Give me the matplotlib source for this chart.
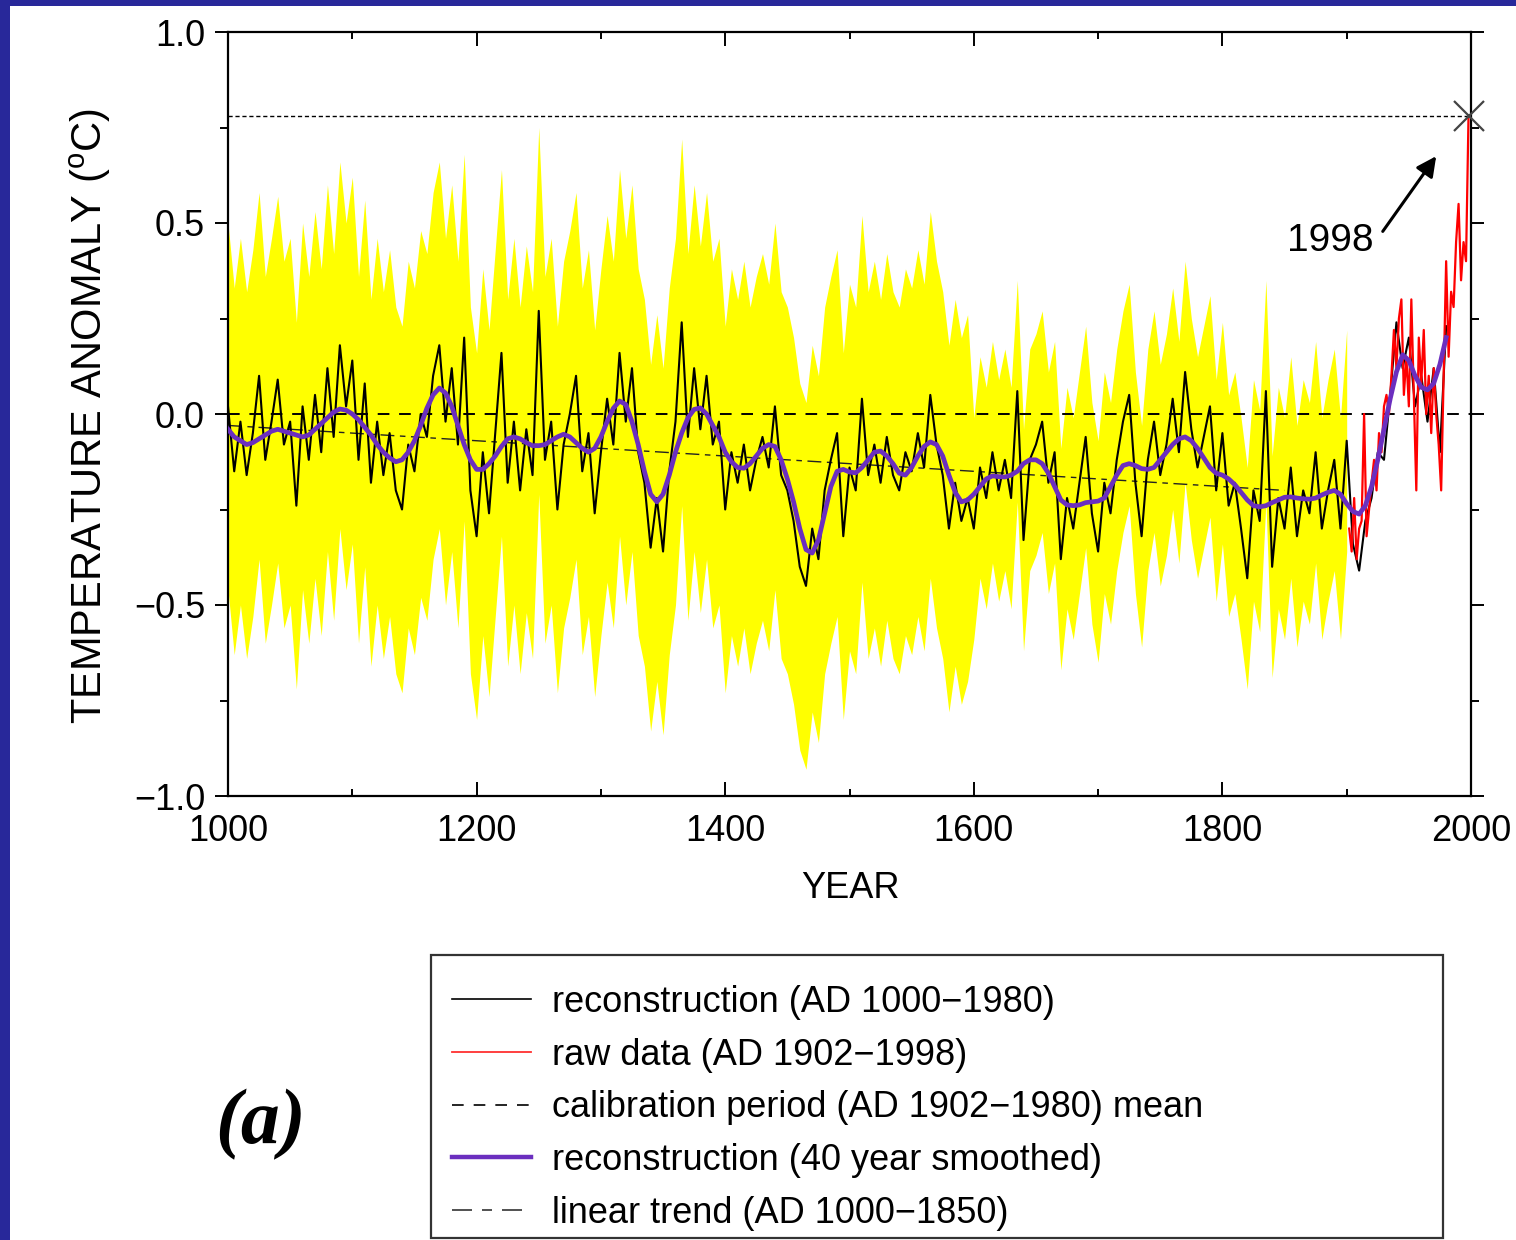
import numpy as np
import matplotlib
matplotlib.use('Agg')
from matplotlib import pyplot as plt
from matplotlib.lines import Line2D
from matplotlib.patches import Rectangle

plt.rcParams['font.family'] = ['Liberation Sans', 'DejaVu Sans']
plt.rcParams['mathtext.fontset'] = 'custom'
plt.rcParams['mathtext.rm'] = 'Liberation Sans'

# reconstruction, 5-year steps 1000..1980
recon_years = np.arange(1000, 1981, 5)
recon = [
    0.02, -0.15, -0.02, -0.16, -0.05, 0.10, -0.12, -0.02, 0.09, -0.08,
    -0.02, -0.24, 0.02, -0.12, 0.05, -0.10, 0.12, -0.06, 0.18, 0.02,
    0.14, -0.12, 0.08, -0.18, -0.02, -0.16, -0.05, -0.20, -0.25, -0.08,
    -0.15, 0.00, -0.06, 0.10, 0.18, -0.02, 0.12, -0.08, 0.20, -0.20,
    -0.32, -0.10, -0.26, -0.05, 0.16, -0.18, -0.02, -0.20, -0.04, -0.16,
    0.27, -0.12, -0.02, -0.25, -0.08, 0.00, 0.10, -0.15, -0.05, -0.26,
    -0.10, 0.04, -0.08, 0.16, -0.02, 0.12, -0.10, -0.18, -0.35, -0.22,
    -0.36, -0.15, -0.02, 0.24, -0.06, 0.12, -0.04, 0.10, -0.08, -0.02,
    -0.25, -0.10, -0.18, -0.08, -0.20, -0.12, -0.06, -0.14, 0.02, -0.16,
    -0.20, -0.28, -0.40, -0.45, -0.30, -0.38, -0.20, -0.12, -0.05, -0.32,
    -0.14, -0.20, 0.04, -0.16, -0.08, -0.18, -0.06, -0.16, -0.20, -0.10,
    -0.15, -0.05, -0.14, 0.05, -0.08, -0.16, -0.30, -0.18, -0.28, -0.22,
    -0.30, -0.14, -0.22, -0.10, -0.20, -0.12, -0.22, 0.06, -0.33, -0.12,
    -0.08, -0.02, -0.18, -0.10, -0.38, -0.22, -0.30, -0.18, -0.06, -0.26,
    -0.36, -0.18, -0.26, -0.12, -0.02, 0.05, -0.18, -0.32, -0.12, -0.02,
    -0.16, -0.08, 0.04, -0.10, 0.11, -0.04, -0.14, -0.06, 0.02, -0.20,
    -0.05, -0.24, -0.18, -0.30, -0.43, -0.20, -0.28, 0.06, -0.40, -0.22,
    -0.30, -0.14, -0.32, -0.20, -0.26, -0.10, -0.30, -0.20, -0.12, -0.30,
    -0.07, -0.34, -0.41, -0.28, -0.22, -0.10, -0.12, 0.05, 0.24, 0.12,
    0.20, 0.02, 0.10, -0.02, 0.12, -0.10, 0.23,
]

# 40 year smoothed reconstruction, same 5-year steps
smooth = [
    -0.04, -0.06, -0.07, -0.08, -0.075, -0.065, -0.055, -0.045, -0.04, -0.045,
    -0.05, -0.055, -0.06, -0.055, -0.04, -0.025, -0.01, 0.005, 0.013, 0.01,
    0.0, -0.015, -0.035, -0.055, -0.08, -0.10, -0.115, -0.125, -0.12, -0.10,
    -0.07, -0.03, 0.015, 0.05, 0.068, 0.055, 0.02, -0.03, -0.08, -0.12,
    -0.145, -0.145, -0.13, -0.11, -0.085, -0.065, -0.06, -0.065, -0.075, -0.083,
    -0.083, -0.08, -0.07, -0.06, -0.053, -0.06, -0.075, -0.09, -0.10, -0.09,
    -0.06, -0.02, 0.015, 0.034, 0.025, -0.02, -0.08, -0.15, -0.21, -0.23,
    -0.21, -0.16, -0.10, -0.05, -0.01, 0.012, 0.016, 0.0, -0.03, -0.06,
    -0.10, -0.125, -0.14, -0.142, -0.13, -0.11, -0.09, -0.08, -0.085, -0.12,
    -0.17, -0.23, -0.30, -0.355, -0.364, -0.33, -0.26, -0.19, -0.15, -0.145,
    -0.152, -0.154, -0.14, -0.12, -0.10, -0.097, -0.11, -0.13, -0.155, -0.16,
    -0.14, -0.11, -0.085, -0.073, -0.08, -0.11, -0.16, -0.205, -0.23, -0.225,
    -0.21, -0.19, -0.17, -0.162, -0.164, -0.165, -0.16, -0.15, -0.13, -0.12,
    -0.12, -0.13, -0.155, -0.19, -0.225, -0.238, -0.24, -0.238, -0.232, -0.23,
    -0.228, -0.22, -0.19, -0.16, -0.135, -0.13, -0.135, -0.143, -0.145, -0.14,
    -0.12, -0.10, -0.08, -0.065, -0.06, -0.07, -0.09, -0.115, -0.14, -0.155,
    -0.16, -0.17, -0.185, -0.205, -0.225, -0.24, -0.243, -0.24, -0.232, -0.225,
    -0.218, -0.217, -0.22, -0.222, -0.223, -0.22, -0.212, -0.205, -0.20, -0.21,
    -0.235, -0.255, -0.262, -0.24, -0.19, -0.12, -0.04, 0.04, 0.11, 0.155,
    0.14, 0.10, 0.07, 0.063, 0.08, 0.13, 0.20,
]

# raw instrumental data, 2-year steps 1902..1998
raw_years = np.arange(1902, 1999, 2)
raw = [
    -0.30, -0.36, -0.22, -0.38, -0.30, -0.28, 0.00, -0.32, -0.25, -0.18,
    -0.12, -0.20, -0.05, -0.10, 0.02, 0.05, 0.00, 0.10, 0.22, 0.12,
    0.25, 0.30, 0.05, 0.15, 0.02, 0.30, 0.05, -0.20, 0.20, 0.08,
    0.22, 0.00, 0.10, -0.05, 0.12, 0.00, -0.08, -0.20, 0.10, 0.40,
    0.15, 0.32, 0.28, 0.45, 0.55, 0.35, 0.45, 0.40, 0.78,
]

# 2-sigma half width of the uncertainty band, per period start
band_start = [1000, 1600]
band_half = [0.48, 0.29]
band_end = 1900

trend_years = [1000, 1850]
trend_vals = [-0.03, -0.20]
calib_mean = 0.0
peak_year = 1998
peak_val = 0.78

purple = '#6b2fbf'
FS = 26

fig = plt.figure(figsize=(15.16, 12.4), dpi=100, facecolor='#28289a')
fig.patches.append(Rectangle((10 / 1516, 0), 1, 1 - 6 / 1240, transform=fig.transFigure,
                             facecolor='white', edgecolor='none', zorder=-5))
ax = fig.add_axes([228 / 1516, 1 - 796 / 1240, (1471 - 228) / 1516, (796 - 32) / 1240])
ax.set_facecolor('white')

recon_a = np.array(recon)
mask = recon_years <= band_end
idx = np.searchsorted(band_start, recon_years[mask], side='right') - 1
half = np.array(band_half)[idx]
ax.fill_between(recon_years[mask], recon_a[mask] - half, recon_a[mask] + half,
                color='#ffff00', lw=0, zorder=1)

ax.axhline(calib_mean, color='black', lw=1.4, ls=(0, (6, 5)), zorder=2)
ax.plot([1000, peak_year], [peak_val, peak_val], color='black', lw=1.0, ls=(0, (3, 2)), zorder=2)
ax.plot(trend_years, trend_vals, color='#222222', lw=1.0, ls=(0, (10, 4, 4, 4)), zorder=3)
ax.plot(recon_years, recon, color='black', lw=1.5, zorder=4)
ax.plot(raw_years, raw, color='#ff0000', lw=1.6, zorder=5)
ax.plot(recon_years, smooth, color=purple, lw=3.4, zorder=6)
ax.plot(peak_year, peak_val, marker='x', ms=22, mew=1.6, color='#444444', zorder=7,
        clip_on=False)

ax.annotate('', xy=(1972, 0.675), xytext=(1929, 0.478),
            arrowprops=dict(arrowstyle='-|>', color='black', lw=2.2,
                            mutation_scale=30, shrinkA=0, shrinkB=0))
ax.text(1887, 0.453, '1998', fontsize=28, ha='center', va='center')

ax.set_xlim(1000, 2000)
ax.set_ylim(-1.0, 1.0)
ax.set_xticks(np.arange(1000, 2001, 200))
ax.set_xticks(np.arange(1100, 2000, 200), minor=True)
ax.set_yticks([-1.0, -0.5, 0.0, 0.5, 1.0])
ax.set_yticklabels(['\u22121.0', '\u22120.5', '0.0', '0.5', '1.0'])
ax.set_yticks([-0.75, -0.25, 0.25, 0.75], minor=True)
ax.tick_params(axis='x', which='both', direction='in', top=True, labelsize=FS, pad=13, width=1.4)
ax.tick_params(axis='x', which='major', length=10)
ax.tick_params(axis='x', which='minor', length=5)
ax.tick_params(axis='y', which='both', direction='out', right=True, labelsize=FS, pad=7, width=1.4)
ax.tick_params(axis='y', which='major', length=9.5)
ax.tick_params(axis='y', which='minor', length=6)
for s in ax.spines.values():
    s.set_linewidth(1.6)

fig.text(90 / 1516, 1 - 416 / 1240, r'TEMPERATURE ANOMALY ($^{\mathrm{o}}$C)',
         rotation=90, ha='center', va='center', fontsize=30)
fig.text(850 / 1516, 1 - 888 / 1240, 'YEAR', ha='center', va='center', fontsize=FS)
fig.text(260 / 1516, 1 - 1125 / 1240, '(a)', ha='center', va='center', fontsize=56,
         family='Liberation Serif', style='italic', weight='bold')

# legend
fig.patches.append(Rectangle((431 / 1516, 2 / 1240), 1012 / 1516, 283 / 1240,
                             transform=fig.transFigure, facecolor='none',
                             edgecolor='#333333', lw=1.6, zorder=5))
handles = [
    Line2D([], [], color='black', lw=1.2),
    Line2D([], [], color='#ff3030', lw=1.3),
    Line2D([], [], color='black', lw=1.2, ls=(0, (7, 6))),
    Line2D([], [], color=purple, lw=3.2),
    Line2D([], [], color='#333333', lw=1.2, ls=(0, (12, 6, 6, 6))),
]
labels = ['reconstruction (AD 1000\u22121980)', 'raw data (AD 1902\u22121998)',
          'calibration period (AD 1902\u22121980) mean', 'reconstruction (40 year smoothed)',
          'linear trend (AD 1000\u22121850)']
fig.legend(handles, labels, loc='upper left', bbox_to_anchor=(452 / 1516, 1 - 985 / 1240),
           frameon=False, fontsize=FS, handlelength=2.2, handletextpad=0.58,
           labelspacing=0.49, borderpad=0, borderaxespad=0)

fig.savefig('out.png', dpi=100, facecolor=fig.get_facecolor())
